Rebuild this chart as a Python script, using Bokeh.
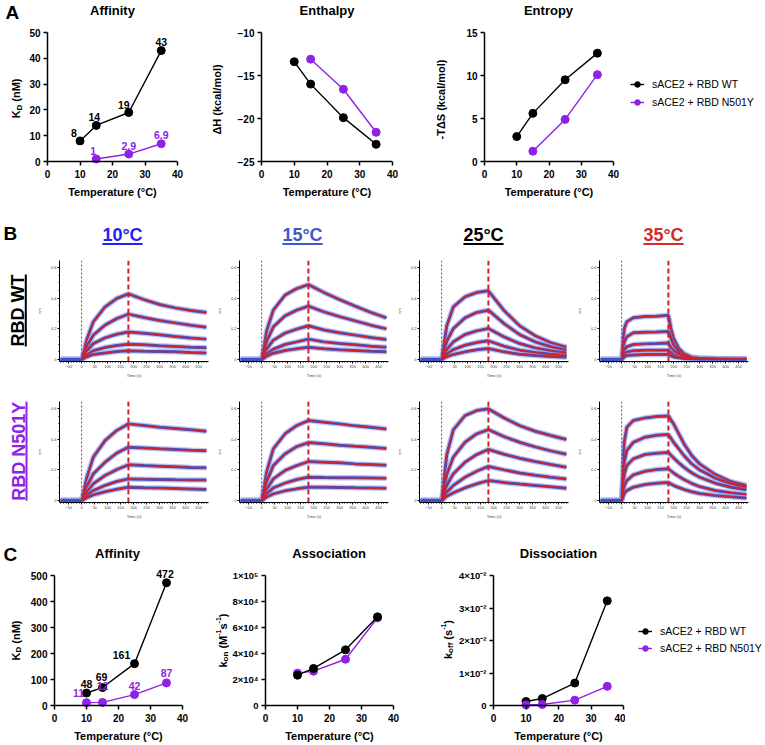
import math
from bokeh.plotting import figure
from bokeh.models import (Range1d, FixedTicker, Legend, LegendItem, Span, ColumnDataSource)
from bokeh.layouts import row, column
from bokeh.embed import file_html
from bokeh.resources import INLINE
from bokeh.core.properties import value

# ------------------------------------------------------------------ data
# Panel A
temp_a_wt = [10, 15, 25, 35]
temp_a_mut = [15, 25, 35]
kd_a_wt = [8, 14, 19, 43]
kd_a_mut = [1, 2.9, 6.9]
dh_wt = [-13.4, -16.0, -19.9, -23.0]
dh_mut = [-13.1, -16.6, -21.6]
tds_wt = [2.9, 5.6, 9.5, 12.6]
tds_mut = [1.2, 4.9, 10.1]

# Panel C
temp_c = [10, 15, 25, 35]
kd_c_wt = [48, 69, 161, 472]
kd_c_mut = [11, 12, 42, 87]
kon_wt = [23300, 28500, 42800, 68200]
kon_mut = [24900, 26400, 35600, 67400]
koff_wt = [0.00123, 0.00215, 0.0069, 0.0322]
koff_mut = [0.0002, 0.0003, 0.00164, 0.0059]

series_labels = ["sACE2 + RBD WT", "sACE2 + RBD N501Y"]
titles_a = ["Affinity", "Enthalpy", "Entropy"]
titles_c = ["Affinity", "Association", "Dissociation"]
temp_headers = ["10°C", "15°C", "25°C", "35°C"]
row_headers = ["RBD WT", "RBD N501Y"]

temp_ticks = [0, 10, 20, 30, 40]
kd_a_ticks = [0, 10, 20, 30, 40, 50]
dh_ticks = [-25, -20, -15, -10]
tds_ticks = [0, 5, 10, 15]
kd_c_ticks = [0, 100, 200, 300, 400, 500]
kon_ticks = [0, 20000, 40000, 60000, 80000, 100000]
kon_tick_labels = ["0", "2×10⁴", "4×10⁴", "6×10⁴", "8×10⁴", "1×10⁵"]
koff_ticks = [0, 0.01, 0.02, 0.03, 0.04]
koff_tick_labels = ["0", "1×10⁻²", "2×10⁻²", "3×10⁻²", "4×10⁻²"]

# Panel B sensorgrams (response, nm)
baseline_t = [-80, -40, 0]
baseline_ru = [0, 0, 0]
t_slow = [0, 20, 45, 90, 135, 180, 240, 300, 360, 420, 480]
t_fast = [0, 10, 20, 45, 90, 135, 180, 190, 200, 220, 240, 270, 300, 360, 420, 480]

wt_10 = [
    [0, 0.13, 0.246, 0.343, 0.398, 0.428, 0.391, 0.359, 0.337, 0.32, 0.307],
    [0, 0.085, 0.159, 0.224, 0.267, 0.296, 0.274, 0.254, 0.239, 0.224, 0.211],
    [0, 0.055, 0.104, 0.141, 0.165, 0.18, 0.172, 0.161, 0.15, 0.141, 0.133],
    [0, 0.03, 0.057, 0.078, 0.091, 0.10, 0.096, 0.089, 0.085, 0.08, 0.076],
    [0, 0.018, 0.033, 0.043, 0.052, 0.057, 0.054, 0.052, 0.05, 0.046, 0.043],
]
wt_15 = [
    [0, 0.19, 0.322, 0.42, 0.463, 0.489, 0.437, 0.391, 0.348, 0.307, 0.272],
    [0, 0.12, 0.213, 0.285, 0.322, 0.348, 0.311, 0.28, 0.252, 0.224, 0.2],
    [0, 0.07, 0.126, 0.172, 0.198, 0.22, 0.193, 0.174, 0.159, 0.143, 0.13],
    [0, 0.037, 0.067, 0.098, 0.115, 0.133, 0.115, 0.104, 0.096, 0.087, 0.08],
    [0, 0.022, 0.041, 0.059, 0.07, 0.08, 0.07, 0.063, 0.059, 0.054, 0.05],
]
wt_25 = [
    [0, 0.22, 0.343, 0.409, 0.437, 0.448, 0.32, 0.22, 0.155, 0.11, 0.08],
    [0, 0.12, 0.202, 0.272, 0.307, 0.322, 0.235, 0.163, 0.115, 0.083, 0.061],
    [0, 0.065, 0.115, 0.163, 0.187, 0.202, 0.148, 0.104, 0.076, 0.057, 0.043],
    [0, 0.035, 0.065, 0.093, 0.111, 0.122, 0.087, 0.061, 0.046, 0.035, 0.026],
    [0, 0.018, 0.033, 0.05, 0.063, 0.072, 0.05, 0.035, 0.026, 0.02, 0.015],
]
wt_35 = [
    [0, 0.2, 0.246, 0.272, 0.28, 0.283, 0.289, 0.2, 0.137, 0.072, 0.039, 0.017, 0.011, 0.007, 0.005, 0.004],
    [0, 0.115, 0.148, 0.174, 0.178, 0.18, 0.183, 0.137, 0.093, 0.05, 0.028, 0.013, 0.009, 0.006, 0.005, 0.004],
    [0, 0.061, 0.083, 0.098, 0.102, 0.104, 0.107, 0.076, 0.057, 0.033, 0.02, 0.01, 0.007, 0.005, 0.004, 0.003],
    [0, 0.035, 0.048, 0.057, 0.06, 0.061, 0.061, 0.043, 0.03, 0.017, 0.011, 0.007, 0.005, 0.004, 0.003, 0.002],
    [0, 0.017, 0.026, 0.03, 0.032, 0.033, 0.033, 0.024, 0.017, 0.011, 0.007, 0.005, 0.004, 0.003, 0.002, 0.002],
]
mut_10 = [
    [0, 0.15, 0.283, 0.391, 0.457, 0.5, 0.489, 0.478, 0.47, 0.461, 0.452],
    [0, 0.09, 0.174, 0.25, 0.309, 0.348, 0.343, 0.337, 0.333, 0.328, 0.324],
    [0, 0.055, 0.109, 0.163, 0.202, 0.233, 0.228, 0.224, 0.22, 0.215, 0.213],
    [0, 0.033, 0.065, 0.098, 0.124, 0.141, 0.139, 0.137, 0.135, 0.134, 0.133],
    [0, 0.019, 0.037, 0.057, 0.074, 0.087, 0.083, 0.081, 0.078, 0.075, 0.072],
]
mut_15 = [
    [0, 0.19, 0.337, 0.435, 0.489, 0.522, 0.511, 0.5, 0.487, 0.478, 0.467],
    [0, 0.125, 0.228, 0.304, 0.352, 0.378, 0.37, 0.361, 0.354, 0.348, 0.339],
    [0, 0.075, 0.141, 0.196, 0.228, 0.254, 0.25, 0.246, 0.239, 0.235, 0.23],
    [0, 0.043, 0.083, 0.113, 0.137, 0.152, 0.15, 0.149, 0.148, 0.147, 0.146],
    [0, 0.023, 0.043, 0.063, 0.076, 0.087, 0.086, 0.085, 0.083, 0.082, 0.08],
]
mut_25 = [
    [0, 0.3, 0.461, 0.554, 0.587, 0.598, 0.539, 0.489, 0.452, 0.424, 0.398],
    [0, 0.17, 0.283, 0.38, 0.435, 0.463, 0.417, 0.38, 0.35, 0.324, 0.302],
    [0, 0.1, 0.174, 0.25, 0.3, 0.333, 0.302, 0.276, 0.254, 0.235, 0.217],
    [0, 0.055, 0.098, 0.152, 0.191, 0.222, 0.2, 0.18, 0.165, 0.152, 0.141],
    [0, 0.028, 0.05, 0.083, 0.109, 0.13, 0.117, 0.107, 0.098, 0.089, 0.08],
]
mut_35 = [
    [0, 0.38, 0.478, 0.522, 0.539, 0.548, 0.552, 0.525, 0.5, 0.435, 0.37, 0.293, 0.239, 0.17, 0.124, 0.098],
    [0, 0.25, 0.326, 0.38, 0.413, 0.426, 0.43, 0.405, 0.38, 0.337, 0.293, 0.239, 0.2, 0.146, 0.109, 0.087],
    [0, 0.17, 0.228, 0.272, 0.3, 0.309, 0.313, 0.295, 0.278, 0.246, 0.217, 0.18, 0.152, 0.113, 0.087, 0.07],
    [0, 0.095, 0.13, 0.167, 0.191, 0.202, 0.207, 0.193, 0.18, 0.157, 0.137, 0.111, 0.091, 0.065, 0.05, 0.039],
    [0, 0.045, 0.065, 0.087, 0.104, 0.113, 0.117, 0.108, 0.098, 0.085, 0.072, 0.057, 0.046, 0.033, 0.024, 0.017],
]
sens_x_ticks = [-50, 0, 50, 100, 150, 200, 250, 300, 350, 400, 450]
sens_x_minor = list(range(-80, 490, 10))
sens_y_ticks = [0, 0.2, 0.4, 0.6]
sens_y_minor = [0.05, 0.1, 0.15, 0.25, 0.3, 0.35, 0.45, 0.5, 0.55]

# ------------------------------------------------------------------ style
FONT = "Liberation Sans"
BLACK = "#000000"
PURPLE = "#8F22E6"
FIT_RED = "#D0202A"
DATA_BLUE = "#3B4FC4"
HALO_BLUE = "#97A2E8"
HEADER_COLORS = ["#2323EE", "#4256C8", "#000000", "#D42A2A"]
ROW_COLORS = [BLACK, PURPLE]

ARIAL_BOLD = {'K': 722, 'D': 722, 'k': 556, 'o': 611, 'n': 611, 'f': 333, ' ': 278,
              '(': 333, ')': 333, 'M': 833, 's': 556, '-': 333, '1': 556, 'm': 889,
              'R': 722, 'B': 722, 'W': 944, 'T': 611, 'N': 722, '5': 556, '0': 556,
              'Y': 667, '°': 400, 'C': 722, '2': 556, '3': 556}

FRAME = 130      # nominal frame size (px) of the small line charts
PAD_BOTTOM = 5   # frames reach a little below the x axis so edge markers stay whole


def text_width(s, size):
    return sum(ARIAL_BOLD.get(c, 556) for c in s) * size / 1000.0


def make_fig(w, h, left, right, top, bottom, xr, yr):
    p = figure(width=w, height=h, x_range=Range1d(*xr), y_range=Range1d(*yr),
               output_backend="svg", toolbar_location=None, title=None,
               min_border_left=left, min_border_right=right,
               min_border_top=top, min_border_bottom=bottom)
    p.outline_line_color = None
    p.xgrid.visible = False
    p.ygrid.visible = False
    return p


def aux_fig(w, h, top=0, bottom=0, yr=None):
    # blank canvas in pixel units (y grows downward) for headings / labels
    if yr is None:
        yr = (h, 0)
    p = figure(width=w, height=h, x_range=Range1d(0, w), y_range=Range1d(*yr),
               x_axis_type=None, y_axis_type=None, output_backend="svg",
               toolbar_location=None, title=None, min_border_left=0,
               min_border_right=0, min_border_top=top, min_border_bottom=bottom)
    p.outline_line_color = None
    p.xgrid.visible = False
    p.ygrid.visible = False
    return p


def style_axis(ax, tick_size="10px", label_standoff=5):
    ax.axis_line_width = 1.5
    ax.axis_line_color = BLACK
    ax.major_tick_line_width = 1.5
    ax.major_tick_line_color = BLACK
    ax.major_tick_out = 4
    ax.major_tick_in = 0
    ax.minor_tick_line_color = None
    ax.major_label_text_font = FONT
    ax.major_label_text_font_style = "bold"
    ax.major_label_text_font_size = tick_size
    ax.major_label_text_color = BLACK
    ax.major_label_standoff = 3
    ax.axis_label_text_font = FONT
    ax.axis_label_text_font_style = "bold"
    ax.axis_label_text_font_size = "11px"
    ax.axis_label_text_color = BLACK
    ax.axis_label_standoff = label_standoff


def rotated_text(p, parts, xc, yc):
    total = sum(text_width(t, sz) for t, sz, sh in parts)
    y = yc + total / 2.0
    xs, ys, ts, ss = [], [], [], []
    for t, sz, sh in parts:
        while t.startswith(" "):
            y -= text_width(" ", sz)
            t = t[1:]
        xs.append(xc + sh)
        ys.append(y)
        ts.append(t)
        ss.append(f"{sz}px")
        y -= text_width(t, sz)
    p.text(x=xs, y=ys, text=ts, text_font_size=ss, angle=math.pi / 2,
           text_align="left", text_baseline="middle", text_font=value(FONT),
           text_font_style="bold", text_color=BLACK)


def chart(w, h, left, right, top, bottom, nominal, yticks, ext_top=0, ylabel=None,
          ytick_labels=None, tick_size="10px", ylabel_standoff=5):
    lo, hi = nominal
    ppu = FRAME / float(hi - lo)
    yr = (lo - PAD_BOTTOM / ppu, hi + ext_top / ppu)
    p = make_fig(w, h, left, right, top, bottom, (0, 40), yr)
    p.xaxis.ticker = FixedTicker(ticks=temp_ticks)
    p.yaxis.ticker = FixedTicker(ticks=yticks)
    p.yaxis.bounds = (lo, hi)
    if ytick_labels:
        p.yaxis.major_label_overrides = {t: l for t, l in zip(yticks, ytick_labels)}
    p.xaxis.axis_label = "Temperature (°C)"
    if ylabel:
        p.yaxis.axis_label = ylabel
    style_axis(p.xaxis[0], "10px", 5)
    style_axis(p.yaxis[0], tick_size, ylabel_standoff)
    # the x axis sits PAD_BOTTOM px above the frame edge: its line is a Span at
    # the lower y limit and its ticks are lifted by the same amount
    xa = p.xaxis[0]
    xa.axis_line_color = None
    xa.major_tick_in = PAD_BOTTOM
    xa.major_tick_out = 4 - PAD_BOTTOM
    xa.major_label_standoff = 3
    p.add_layout(Span(location=lo, dimension="width", line_color=BLACK, line_width=1.5))
    return p


def add_series(p, x, y, color, **kw):
    ln = p.line(x, y, line_color=color, line_width=1.4, **kw)
    sc = p.scatter(x, y, size=8, fill_color=color, line_color=color, **kw)
    return ln, sc


def add_value_labels(p, x, y, dx, dy, color):
    src = ColumnDataSource(dict(x=x, y=y, t=[f"{v:g}" for v in y], dx=dx, dy=dy))
    p.text(x="x", y="y", text="t", x_offset="dx", y_offset="dy", source=src,
           text_color=color, text_font=value(FONT), text_font_style="bold",
           text_font_size="10.5px", text_align="center", text_baseline="middle")


def legend_fig(w, h, top, bottom, loc, spacing, x, y_wt, y_mut):
    # legend panel; its renderers hold the series but are drawn on an
    # off-screen range, so only the legend glyphs are visible
    p = aux_fig(w, h, top=top, bottom=bottom)
    p.extra_x_ranges = {"off": Range1d(-1000, -999)}
    wt_r = add_series(p, x, y_wt, BLACK, x_range_name="off")
    mu_r = add_series(p, x[-len(y_mut):], y_mut, PURPLE, x_range_name="off")
    lg = Legend(items=[LegendItem(label=series_labels[0], renderers=list(wt_r)),
                       LegendItem(label=series_labels[1], renderers=list(mu_r))],
                location=loc, orientation="vertical")
    lg.margin = 0
    lg.padding = 0
    lg.spacing = spacing
    lg.glyph_width = 14
    lg.glyph_height = 14
    lg.label_height = 14
    lg.label_standoff = 8
    lg.border_line_color = None
    lg.background_fill_alpha = 0
    lg.label_text_font = FONT
    lg.label_text_font_size = "10.5px"
    lg.label_text_color = BLACK
    p.add_layout(lg, "center")
    return p


def heading_fig(w, h, letter, letter_xy, titles, title_x, title_y):
    p = aux_fig(w, h)
    p.text(x=[letter_xy[0]], y=[letter_xy[1]], text=[letter], text_color=BLACK,
           text_font=value(FONT), text_font_style="bold", text_font_size="19px",
           text_align="left", text_baseline="middle")
    p.text(x=title_x, y=[title_y] * len(titles), text=titles, text_color=BLACK,
           text_font=value(FONT), text_font_style="bold", text_font_size="13px",
           text_align="center", text_baseline="middle")
    return p


# ------------------------------------------------------------------ row A
# chart row spans page y 24..200; frames 32..167 (x axis at 162)
head_a = heading_fig(765, 24, "A", (5, 12), titles_a, [112, 326.5, 548], 10)

strip_a = aux_fig(25, 176, top=8, bottom=33, yr=(167, 32))
rotated_text(strip_a, [("K", 11, 0), ("D", 8, 3), (" (nM)", 11, 0)], 15.5, 98.5)

a1 = chart(175, 176, 22, 23, 8, 33, (0, 50), kd_a_ticks)
add_series(a1, temp_a_wt, kd_a_wt, BLACK)
add_series(a1, temp_a_mut, kd_a_mut, PURPLE)
add_value_labels(a1, temp_a_wt, kd_a_wt, [-6, -2, -5, 0], [-8, -8.5, -8, -8.5], BLACK)
add_value_labels(a1, temp_a_mut, kd_a_mut, [-3, 0, 0], [-7.5, -8, -8.5], PURPLE)

a2 = chart(232, 176, 61, 40, 8, 33, (-25, -10), dh_ticks,
           ylabel="ΔH (kcal/mol)", ylabel_standoff=12)
add_series(a2, temp_a_wt, dh_wt, BLACK)
add_series(a2, temp_a_mut, dh_mut, PURPLE)

a3 = chart(188, 176, 51, 7, 8, 33, (0, 15), tds_ticks,
           ylabel="-TΔS (kcal/mol)", ylabel_standoff=16)
add_series(a3, temp_a_wt, tds_wt, BLACK)
add_series(a3, temp_a_mut, tds_mut, PURPLE)

leg_a = legend_fig(145, 176, 8, 33, (10, 57), 4, temp_a_wt, tds_wt, tds_mut)

row_a = column(head_a, row(strip_a, a1, a2, a3, leg_a, spacing=0), spacing=0)

# ------------------------------------------------------------------ header B
hdr = aux_fig(765, 52)
hdr_x = [122, 302, 483, 663]
hdr_src = ColumnDataSource(dict(x=hdr_x, y=[34] * 4, t=temp_headers, c=HEADER_COLORS))
hdr.text(x="x", y="y", text="t", text_color="c", source=hdr_src,
         text_font=value(FONT), text_font_style="bold", text_font_size="18px",
         text_align="center", text_baseline="middle")
uw = [text_width(t, 18) / 2.0 for t in temp_headers]
hdr.segment(x0=[x - w for x, w in zip(hdr_x, uw)], y0=[43.5] * 4,
            x1=[x + w for x, w in zip(hdr_x, uw)], y1=[43.5] * 4,
            line_color=HEADER_COLORS, line_width=2)
hdr.text(x=[3], y=[32.5], text=["B"], text_color=BLACK, text_font=value(FONT),
         text_font_style="bold", text_font_size="19px", text_align="left",
         text_baseline="middle")

# ------------------------------------------------------------------ row labels B
side = aux_fig(33, 278)
side_y = [58, 198.7]
side.text(x=[17.5, 18.3], y=side_y, text=row_headers, text_color=ROW_COLORS,
          angle=math.pi / 2, text_font=value(FONT), text_font_style="bold",
          text_font_size="18px", text_align="center", text_baseline="middle")
sw = [text_width(t, 18) / 2.0 for t in row_headers]
side.segment(x0=[25.3, 26], y0=[y - w for y, w in zip(side_y, sw)],
             x1=[25.3, 26], y1=[y + w for y, w in zip(side_y, sw)],
             line_color=ROW_COLORS, line_width=2)


# ------------------------------------------------------------------ sensorgrams
def sensorgram(curves, times, w, h, top, bottom, right=5):
    p = make_fig(w, h, 20, right, top, bottom, (-85, 488), (-0.013, 0.646))
    for vals in curves:
        bx = baseline_t + times[1:]
        by = baseline_ru + vals[1:]
        p.line(bx, by, line_color=HALO_BLUE, line_width=5.5, line_alpha=0.6)
        p.line(bx, by, line_color=DATA_BLUE, line_width=3.0, line_alpha=0.95)
    for vals in curves:
        p.line(times, vals, line_color=FIT_RED, line_width=1.5)
    p.add_layout(Span(location=0, dimension="height", line_color=FIT_RED,
                      line_dash="2 2", line_width=1))
    p.add_layout(Span(location=180, dimension="height", line_color=FIT_RED,
                      line_dash="5 3", line_width=2))
    p.xaxis.ticker = FixedTicker(ticks=sens_x_ticks, minor_ticks=sens_x_minor)
    p.yaxis.ticker = FixedTicker(ticks=sens_y_ticks, minor_ticks=sens_y_minor)
    p.yaxis.major_label_overrides = {0: "0"}
    p.xaxis.axis_label = "Time (s)"
    p.yaxis.axis_label = "nm"
    for ax in (p.xaxis[0], p.yaxis[0]):
        ax.axis_line_width = 1
        ax.axis_line_color = BLACK
        ax.major_tick_line_color = BLACK
        ax.minor_tick_line_color = BLACK
        ax.major_tick_out = 2
        ax.major_tick_in = 0
        ax.minor_tick_out = 1
        ax.minor_tick_in = 0
        ax.major_label_text_font = FONT
        ax.major_label_text_font_size = "4px"
        ax.major_label_standoff = 1
        ax.axis_label_text_font = FONT
        ax.axis_label_text_font_style = "normal"
        ax.axis_label_text_font_size = "4px"
        ax.axis_label_standoff = 2
    p.yaxis[0].axis_label_standoff = 6
    return p


row1 = row(sensorgram(wt_10, t_slow, 180, 138, 8, 29),
           sensorgram(wt_15, t_slow, 180, 138, 8, 29),
           sensorgram(wt_25, t_slow, 180, 138, 8, 29),
           sensorgram(wt_35, t_fast, 180, 138, 8, 29), spacing=0)
row2 = row(sensorgram(mut_10, t_slow, 180, 140, 11, 28),
           sensorgram(mut_15, t_slow, 180, 140, 11, 28),
           sensorgram(mut_25, t_slow, 180, 140, 11, 28),
           sensorgram(mut_35, t_fast, 180, 140, 11, 28), spacing=0)
row_b = row(side, column(row1, row2, spacing=0), spacing=0)

# ------------------------------------------------------------------ row C
# chart row spans page y 564..745; frames 564..710 (x axis at 705, axes end
# at the nominal maxima, 11 px below the frame top)
head_c = heading_fig(765, 34, "C", (3, 24), titles_c, [117, 328.5, 558], 23)

strip_c1 = aux_fig(27, 181, top=0, bottom=35, yr=(710, 564))
rotated_text(strip_c1, [("K", 11, 0), ("D", 8, 3), (" (nM)", 11, 0)], 15, 640)

c1 = chart(178, 181, 25, 23, 0, 35, (0, 500), kd_c_ticks, ext_top=11)
add_series(c1, temp_c, kd_c_wt, BLACK)
add_series(c1, temp_c, kd_c_mut, PURPLE)
add_value_labels(c1, temp_c, kd_c_wt, [0, -1, -13, -1.5], [-9.5, -11, -9, -8.5], BLACK)
add_value_labels(c1, temp_c, kd_c_mut, [-8, 0, 0, 0], [-10, -16, -9, -9.5], PURPLE)

strip_c2 = aux_fig(24, 181, top=0, bottom=35, yr=(710, 564))
rotated_text(strip_c2, [("k", 11, 0), ("on", 8, 3), (" (M", 11, 0), ("-1", 7, -4),
                        ("s", 11, 0), ("-1", 7, -4), (")", 11, 0)], 17, 640)

c2 = chart(208, 181, 34, 44, 0, 35, (0, 100000), kon_ticks, ext_top=11,
           ytick_labels=kon_tick_labels, tick_size="9.5px")
add_series(c2, temp_c, kon_mut, PURPLE)
add_series(c2, temp_c, kon_wt, BLACK)

strip_c3 = aux_fig(18, 181, top=0, bottom=35, yr=(710, 564))
rotated_text(strip_c3, [("k", 11, 0), ("off", 8, 3), (" (s", 11, 0), ("-1", 7, -4),
                        (")", 11, 0)], 10, 639)

c3 = chart(170, 181, 38, 2, 0, 35, (0, 0.04), koff_ticks, ext_top=11,
           ytick_labels=koff_tick_labels, tick_size="9.5px")
add_series(c3, temp_c, koff_wt, BLACK)
add_series(c3, temp_c, koff_mut, PURPLE)

leg_c = legend_fig(140, 181, 0, 35, (13, 55), 3, temp_c, koff_wt, koff_mut)

row_c = column(head_c, row(strip_c1, c1, strip_c2, c2, strip_c3, c3, leg_c, spacing=0),
               spacing=0)

layout = column(row_a, hdr, row_b, row_c, spacing=0)

open("out.html", "w").write(file_html(layout, INLINE))
